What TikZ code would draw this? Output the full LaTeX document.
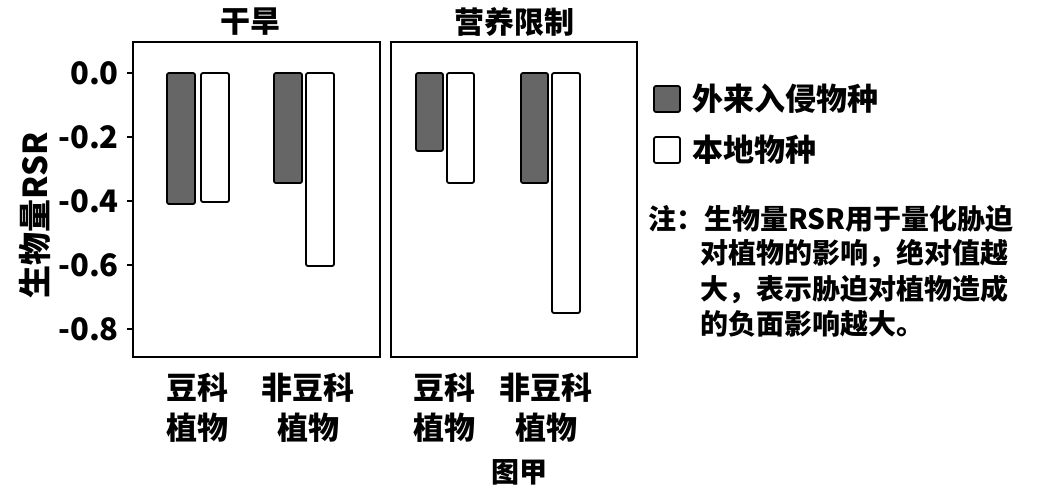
\documentclass[tikz,border=0pt]{standalone}
\usepackage{fontspec}
\newfontfamily\cjk{Noto Sans CJK SC}
\begin{document}
\begin{tikzpicture}[x=1pt,y=-1pt,
  every node/.style={font=\cjk\bfseries\fontsize{31}{36}\selectfont, inner sep=0pt},
  darkbar/.style={draw=black, line width=1.8pt, fill=black!60, rounded corners=2pt},
  whitebar/.style={draw=black, line width=1.8pt, fill=white, rounded corners=2pt},
  panel/.style={draw=black, line width=2pt},
  notetext/.style={anchor=west, font=\cjk\bfseries\fontsize{28}{32}\selectfont},
  xlab/.style={align=center, font=\cjk\bfseries\fontsize{31}{40}\selectfont}]
\useasboundingbox (0,0) rectangle (1039,498);
% panels
\draw[panel] (133,42) rectangle (380,357);
\draw[panel] (391,42) rectangle (637,357);
\node[font=\cjk\bfseries\fontsize{30}{36}\selectfont] (t1) at (250,22) {干旱};
\node[font=\cjk\bfseries\fontsize{30}{36}\selectfont] (t2) at (514,22) {营养限制};
% y axis
\foreach \v/\y in {0.0/73,-0.2/137,-0.4/201,-0.6/265,-0.8/329}{
  \draw[line width=1.5pt] (127,\y) -- (133,\y);
  \node[anchor=east, font=\cjk\bfseries\fontsize{31}{36}\selectfont] at (119,\y) {\v};
}
\node[rotate=90, font=\cjk\bfseries\fontsize{33}{36}\selectfont] (yl) at (35,215) {生物量RSR};
% bars
\draw[darkbar] (167,73) rectangle (195,204);
\draw[whitebar] (201,73) rectangle (229,202);
\draw[darkbar] (274,73) rectangle (302,183);
\draw[whitebar] (306,73) rectangle (334,266);
\draw[darkbar] (416,73) rectangle (443,151);
\draw[whitebar] (447,73) rectangle (474,183);
\draw[darkbar] (521,73) rectangle (548,183);
\draw[whitebar] (552,73) rectangle (580,313);
% x labels
\node[xlab] (x1) at (197,408) {豆科\\植物};
\node[xlab] (x2) at (308,408) {非豆科\\植物};
\node[xlab] (x3) at (444,408) {豆科\\植物};
\node[xlab] (x4) at (546,408) {非豆科\\植物};
\node[font=\cjk\bfseries\fontsize{28}{36}\selectfont] (cap) at (519,472) {图甲};
% legend
\draw[darkbar] (654,86) rectangle (680,112);
\node[anchor=west] (l1) at (692,99) {外来入侵物种};
\draw[whitebar] (654,137) rectangle (680,163);
\node[anchor=west] (l2) at (692,150) {本地物种};
% note
\node[notetext] (n0) at (648,219) {注：生物量RSR用于量化胁迫};
\node[notetext] (n1) at (700,254) {对植物的影响，绝对值越};
\node[notetext] (n2) at (700,289) {大，表示胁迫对植物造成};
\node[notetext] (n3) at (700,324) {的负面影响越大。};
\end{tikzpicture}
\end{document}
